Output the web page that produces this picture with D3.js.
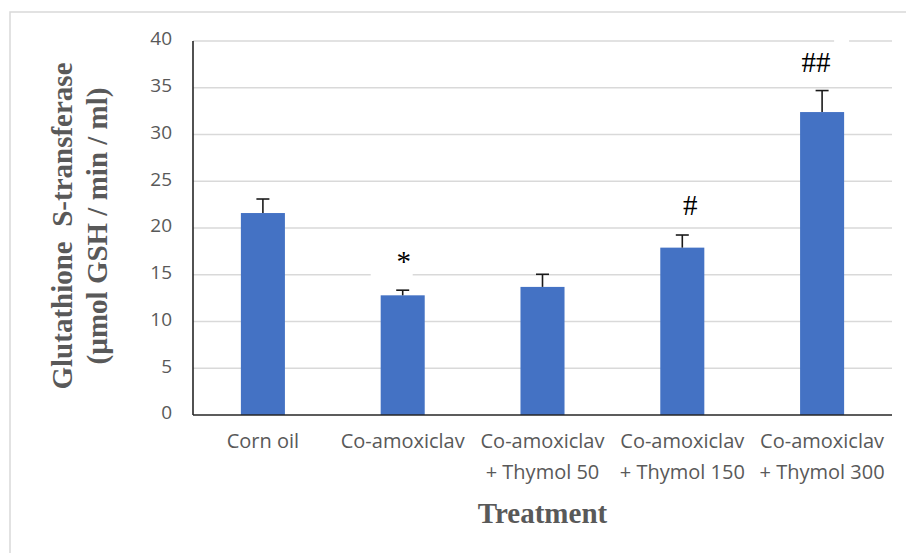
<!DOCTYPE html>
<html>
<head>
<meta charset="utf-8">
<script src="https://cdn.jsdelivr.net/npm/d3@7/dist/d3.min.js"></script>
<style>
  html, body { margin: 0; padding: 0; background: #ffffff; }
  svg { display: block; }
</style>
</head>
<body>
<script>
// ---- Data ----
const categories = ["Corn oil", "Co-amoxiclav", "Co-amoxiclav + Thymol 50", "Co-amoxiclav + Thymol 150", "Co-amoxiclav + Thymol 300"];
const labelLine1 = ["Corn oil", "Co-amoxiclav", "Co-amoxiclav", "Co-amoxiclav", "Co-amoxiclav"];
const labelLine2 = ["", "", "+ Thymol 50", "+ Thymol 150", "+ Thymol 300"];
const means = [21.6, 12.8, 13.7, 17.9, 32.4];
const errors = [1.5, 0.55, 1.35, 1.35, 2.3];
const marks = ["", "*", "", "#", "##"];
const yTicks = [0, 5, 10, 15, 20, 25, 30, 35, 40];
const yTitle1 = "Glutathione  S-transferase";
const yTitle2 = "(µmol GSH / min / ml)";
const xTitle = "Treatment";

// ---- Layout ----
const W = 906, H = 553;
const plot = { left: 193, right: 892, top: 41, bottom: 415 };

const svg = d3.select("body").append("svg").attr("width", W).attr("height", H);

// outer chart border
svg.append("rect").attr("x", 10).attr("y", 12).attr("width", W + 20).attr("height", H + 20)
  .attr("fill", "#ffffff").attr("stroke", "#d9d9d9").attr("stroke-width", 1.5);

const x = d3.scaleBand().domain(categories).range([plot.left, plot.right]).paddingInner(0).paddingOuter(0);
const y = d3.scaleLinear().domain([0, 40]).range([plot.bottom, plot.top]);
const barW = x.bandwidth() * 0.315;

// gridlines
svg.append("g").selectAll("line").data(yTicks.filter(d => d > 0)).join("line")
  .attr("x1", plot.left).attr("x2", plot.right)
  .attr("y1", d => y(d)).attr("y2", d => y(d))
  .attr("stroke", "#d9d9d9").attr("stroke-width", 1.3);

// y axis tick labels
const yAxis = d3.axisLeft(y).tickValues(yTicks).tickSize(0).tickPadding(21);
const gy = svg.append("g").attr("transform", `translate(${plot.left},0)`).call(yAxis);
gy.select(".domain").remove();
gy.selectAll("text").attr("font-family", "'Open Sans', sans-serif").attr("font-size", 19)
  .attr("fill", "#595959").attr("dy", "0.2em");

// bars
svg.append("g").selectAll("rect").data(categories).join("rect")
  .attr("x", (d) => x(d) + x.bandwidth() / 2 - barW / 2)
  .attr("y", (d, i) => y(means[i]))
  .attr("width", barW)
  .attr("height", (d, i) => y(0) - y(means[i]))
  .attr("fill", "#4472c4");

// error bars (upper only)
const eg = svg.append("g").attr("stroke", "#1a1a1a").attr("stroke-width", 1.6);
categories.forEach((c, i) => {
  const cx = x(c) + x.bandwidth() / 2;
  eg.append("line").attr("x1", cx).attr("x2", cx).attr("y1", y(means[i])).attr("y2", y(means[i] + errors[i]));
  eg.append("line").attr("x1", cx - 6.5).attr("x2", cx + 6.5).attr("y1", y(means[i] + errors[i])).attr("y2", y(means[i] + errors[i]));
});

// white boxes behind annotation labels (they hide the gridlines)
svg.append("rect").attr("x", x(categories[1]) + x.bandwidth() / 2 - 32).attr("y", y(15) - 4).attr("width", 42).attr("height", 8).attr("fill", "#ffffff");
svg.append("rect").attr("x", x(categories[4]) + x.bandwidth() / 2 + 12).attr("y", y(40) - 4).attr("width", 15).attr("height", 8).attr("fill", "#ffffff");

// significance marks
const markY = [0, 261, 0, 205, 62];
svg.append("g").selectAll("text").data(categories).join("text")
  .attr("x", (d, i) => x(d) + x.bandwidth() / 2 + (i === 3 ? 8 : (i === 4 ? -6 : 1)))
  .attr("y", (d, i) => markY[i])
  .attr("dy", "0.35em")
  .attr("text-anchor", "middle")
  .attr("font-family", "'Liberation Serif', 'Times New Roman', serif")
  .attr("font-size", 29)
  .attr("fill", "#000000")
  .text((d, i) => marks[i]);

// axes lines
svg.append("line").attr("x1", plot.left).attr("x2", plot.left).attr("y1", plot.top).attr("y2", plot.bottom)
  .attr("stroke", "#262626").attr("stroke-width", 1.6);
svg.append("line").attr("x1", plot.left).attr("x2", plot.right).attr("y1", plot.bottom).attr("y2", plot.bottom)
  .attr("stroke", "#262626").attr("stroke-width", 1.6);

// category labels
const cl = svg.append("g").attr("font-family", "'Open Sans', sans-serif").attr("font-size", 20)
  .attr("fill", "#595959").attr("text-anchor", "middle");
categories.forEach((c, i) => {
  const cx = x(c) + x.bandwidth() / 2;
  cl.append("text").attr("x", cx).attr("y", 441).attr("dy", "0.35em").text(labelLine1[i]);
  if (labelLine2[i]) cl.append("text").attr("x", cx).attr("y", 472).attr("dy", "0.35em").text(labelLine2[i]);
});

// x title
svg.append("text").attr("x", (plot.left + plot.right) / 2).attr("y", 513).attr("dy", "0.35em")
  .attr("text-anchor", "middle").attr("font-family", "'Liberation Serif', 'Times New Roman', serif")
  .attr("font-weight", "bold").attr("font-size", 29).attr("fill", "#595959").text(xTitle);

// y title
const yt = svg.append("g").attr("transform", "translate(62,226) rotate(-90)")
  .attr("font-family", "'Liberation Serif', 'Times New Roman', serif").attr("font-weight", "bold")
  .attr("font-size", 29).attr("fill", "#595959").attr("text-anchor", "middle");
yt.append("text").attr("x", 0).attr("y", 0).attr("dy", "0.35em").attr("xml:space", "preserve").style("white-space", "pre").text(yTitle1);
yt.append("text").attr("x", 0).attr("y", 35).attr("dy", "0.35em").text(yTitle2);
</script>
</body>
</html>
